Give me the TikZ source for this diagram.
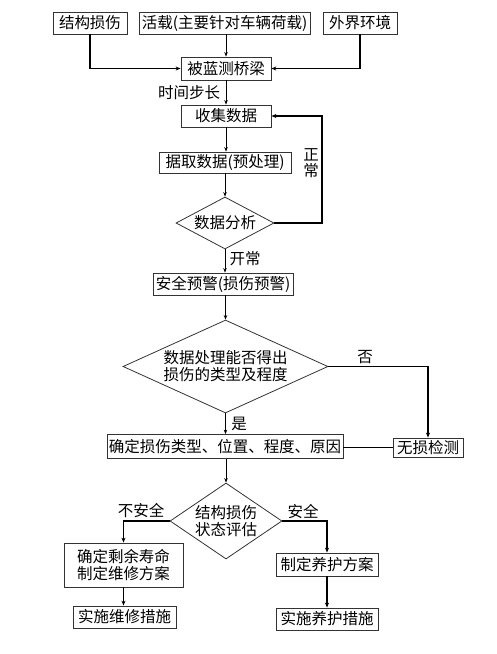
\documentclass[tikz,border=0pt]{standalone}
\usepackage{fontspec}
\setmainfont{Noto Sans CJK SC}
\usetikzlibrary{shapes.geometric,arrows.meta}
\begin{document}
\begin{tikzpicture}[x=1pt,y=-1pt,
  every node/.style={font=\fontsize{15.5}{17}\selectfont},
  box/.style={draw=black!80,line width=0.8pt,inner sep=0pt,align=center},
  dia/.style={draw=black!80,line width=0.8pt,diamond,inner sep=0pt,align=center},
  thin arr/.style={line width=0.8pt,-{Stealth[length=4.5pt,width=3.5pt]}},
  thick arr/.style={line width=1.8pt,-{Stealth[length=5pt,width=4pt]}},
  thick line/.style={line width=1.8pt},
  lbl/.style={inner sep=0pt,align=center}]
\useasboundingbox (0,0) rectangle (497,654);
% boxes
\node[box,minimum width=74pt,minimum height=22pt] (n1) at (90,23) {结构损伤};
\node[box,minimum width=171pt,minimum height=22pt] (n2) at (224.5,23) {活载(主要针对车辆荷载)};
\node[box,minimum width=74pt,minimum height=22pt] (n3) at (360,23) {外界环境};
\node[box,minimum width=90pt,minimum height=23pt] (n4) at (226,68.5) {被蓝测桥梁};
\node[box,minimum width=90pt,minimum height=22pt] (n5) at (226,116) {收集数据};
\node[box,minimum width=132pt,minimum height=21pt] (n6) at (225,162.5) {据取数据(预处理)};
\node[dia,aspect=1.9,minimum width=98pt,minimum height=52pt] (d1) at (225,223) {数据分析};
\node[box,minimum width=140pt,minimum height=22pt] (n7) at (223,284) {安全预警(损伤预警)};
\node[dia,aspect=2.2,minimum width=205pt,minimum height=93pt] (d2) at (225.5,366.5) {数据处理能否得出\\损伤的类型及程度};
\node[box,minimum width=236pt,minimum height=24pt] (n8) at (225,446.5) {确定损伤类型、位置、程度、原因};
\node[box,minimum width=70pt,minimum height=19pt] (n9) at (428,447.5) {无损检测};
\node[dia,aspect=1.47,minimum width=112pt,minimum height=76pt] (d3) at (226,521) {结构损伤\\状态评估};
\node[box,minimum width=119pt,minimum height=44pt] (n10) at (123.5,565) {确定剩余寿命\\制定维修方案};
\node[box,minimum width=103pt,minimum height=22pt] (n11) at (124.5,617) {实施维修措施};
\node[box,minimum width=102pt,minimum height=23pt] (n12) at (327,564.5) {制定养护方案};
\node[box,minimum width=102pt,minimum height=22pt] (n13) at (327,619) {实施养护措施};
\coordinate (c1) at (322,116);
% connectors
\draw[thin arr] (n2.south -| n4.north) -- (n4.north);
\draw[thick arr] (n1.south) |- (n4.west);
\draw[thick arr] (n3.south) |- (n4.east);
\draw[thin arr] (n4.south) -- (n5.north);
\draw[thin arr] (n5.south) -- (n5.south |- n6.north);
\draw[thin arr] (n6.south -| d1.north) -- (d1.north);
\draw[thick arr] (d1.east) -| (c1) -- (n5.east);
\draw[thin arr] (d1.south) -- (d1.south |- n7.north);
\draw[thin arr] (n7.south -| d2.north) -- (d2.north);
\draw[thin arr] (d2.south) -- (d2.south |- n8.north);
\draw[thick arr] (d2.east) -| (n9.north);
\draw[thick line] (n9.west) -- (n9.west -| n8.east);
\draw[thin arr] (n8.south -| d3.north) -- (d3.north);
\draw[thick arr] (d3.west) -| (n10.north);
\draw[thick arr] (d3.east) -| (n12.north);
\draw[thick arr] (n10.south) -- (n10.south |- n11.north);
\draw[thick arr] (n12.south) -- (n13.north);
% labels
\node[lbl] (l1) at (189,93) {时间步长};
\node[lbl,font=\fontsize{15.5}{15.5}\selectfont] (l2) at (311,163) {正\\常};
\node[lbl] (l3) at (245,259) {开常};
\node[lbl] (l4) at (365,357) {否};
\node[lbl] (l5) at (239,424) {是};
\node[lbl] (l6) at (141,511) {不安全};
\node[lbl] (l7) at (303,511) {安全};
\end{tikzpicture}
\end{document}
